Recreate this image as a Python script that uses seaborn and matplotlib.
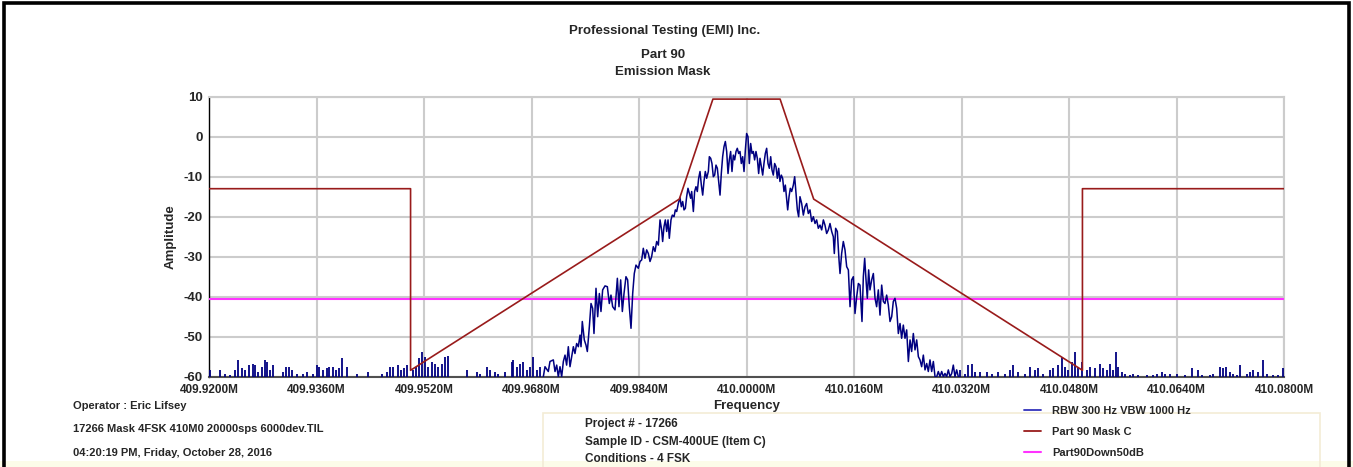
import numpy as np
import pandas as pd
import matplotlib
matplotlib.use("Agg")
import matplotlib.pyplot as plt
import seaborn as sns
from matplotlib.patches import Rectangle
from matplotlib.lines import Line2D
from matplotlib.ticker import MultipleLocator, FixedLocator

sns.set_style("white")
plt.rcParams['font.family'] = ['Liberation Sans', 'DejaVu Sans']

CENTER_MHZ = 410.0

# ---- Spectrum trace (offset from 410 MHz in kHz, amplitude in dB) ----
sig_off_khz = [
    -30.24, -29.99, -29.50, -29.25, -28.75, -28.50, -28.25, -28.01, -27.76, -27.51,
    -27.26, -27.01, -26.77, -26.52, -26.27, -26.02, -25.77, -25.53, -25.28, -25.03,
    -24.78, -24.63, -24.44, -24.14, -23.89, -23.69, -23.39, -23.14, -22.90, -22.70,
    -22.40, -22.15, -21.90, -21.66, -21.41, -21.06, -20.71, -20.42, -20.17, -19.92,
    -19.57, -19.22, -18.98, -18.73, -18.48, -18.23, -17.94, -17.69, -17.44, -17.19,
    -16.94, -16.70, -16.45, -16.10, -15.85, -15.60, -15.36, -15.11, -14.86, -14.61,
    -14.36, -14.12, -13.87, -13.62, -13.37, -13.12, -12.87, -12.63, -12.48, -12.28,
    -12.08, -11.88, -11.68, -11.49, -11.24, -11.04, -10.79, -10.59, -10.39, -10.15,
    -9.90, -9.70, -9.50, -9.30, -9.10, -8.91, -8.71, -8.51, -8.31, -8.16,
    -7.91, -7.72, -7.52, -7.32, -7.12, -6.92, -6.72, -6.52, -6.33, -6.13,
    -5.93, -5.68, -5.53, -5.33, -5.14, -4.94, -4.74, -4.54, -4.34, -4.14,
    -3.94, -3.75, -3.55, -3.35, -3.15, -2.95, -2.75, -2.56, -2.36, -2.16,
    -1.96, -1.76, -1.56, -1.37, -1.17, -0.97, -0.77, -0.57, -0.37, -0.17,
    0.02, 0.22, 0.42, 0.62, 0.82, 1.02, 1.21, 1.41, 1.61, 1.81,
    2.01, 2.21, 2.41, 2.60, 2.80, 3.00, 3.20, 3.40, 3.60, 3.79,
    3.99, 4.19, 4.39, 4.59, 4.79, 4.98, 5.18, 5.38, 5.58, 5.78,
    5.98, 6.13, 6.33, 6.52, 6.72, 6.97, 7.17, 7.37, 7.57, 7.76,
    7.96, 8.21, 8.46, 8.71, 8.95, 9.20, 9.45, 9.70, 9.95, 10.20,
    10.44, 10.69, 10.94, 11.19, 11.44, 11.68, 11.93, 12.18, 12.43, 12.68,
    12.92, 13.07, 13.27, 13.52, 13.77, 13.92, 14.16, 14.41, 14.66, 14.91,
    15.16, 15.41, 15.65, 15.90, 16.15, 16.40, 16.65, 16.89, 17.19, 17.39,
    17.59, 17.79, 17.98, 18.18, 18.38, 18.63, 18.88, 19.13, 19.37, 19.62,
    19.87, 20.12, 20.37, 20.61, 20.86, 21.11, 21.36, 21.61, 21.85, 22.10,
    22.35, 22.60, 22.85, 23.09, 23.34, 23.59, 23.84, 24.09, 24.34, 24.58,
    24.83, 25.08, 25.33, 25.58, 25.82, 26.07, 26.32, 26.57, 26.82, 27.06,
    27.31, 27.56, 27.81, 28.06, 28.31, 28.55, 28.80, 29.05, 29.30, 29.54,
    29.79, 30.04, 30.29, 30.54, 30.78, 31.03, 31.28, 31.53,
]
sig_db = [
    -60.0, -57.5, -58.7, -56.2, -55.8, -58.7, -57.1, -60.0, -57.5, -60.0,
    -56.2, -54.6, -57.1, -52.5, -57.5, -55.0, -52.5, -54.2, -51.7, -52.5,
    -49.6, -52.5, -46.2, -50.8, -52.1, -53.7, -47.5, -41.7, -42.9, -49.2,
    -37.9, -45.0, -39.2, -43.7, -38.3, -37.3, -37.5, -41.7, -39.6, -42.5,
    -43.3, -35.4, -42.5, -35.8, -43.7, -39.2, -35.0, -35.8, -42.5, -47.9,
    -39.2, -34.2, -32.1, -32.9, -31.2, -30.8, -27.9, -30.4, -28.3, -29.2,
    -31.2, -30.0, -27.5, -28.7, -26.2, -27.1, -20.8, -23.3, -26.2, -22.5,
    -20.8, -23.7, -20.8, -25.4, -20.8, -19.6, -20.0, -18.3, -18.7, -16.7,
    -15.2, -17.5, -16.2, -18.3, -17.9, -15.0, -12.9, -14.2, -15.4, -13.7,
    -18.7, -13.7, -12.5, -13.7, -10.4, -8.7, -12.1, -14.6, -11.2, -8.7,
    -10.4, -8.7, -5.0, -5.4, -6.7, -10.0, -9.6, -7.1, -7.9, -11.2,
    -14.6, -9.2, -5.0, -2.5, -1.2, -3.7, -9.2, -5.8, -3.7, -8.7,
    -4.6, -5.8, -3.7, -2.9, -4.2, -3.7, -6.7, -5.0, -8.7, -3.3,
    0.8, 0.0, -6.7, -1.7, -4.2, -3.7, -5.8, -3.7, -5.4, -9.2,
    -5.4, -7.5, -9.6, -6.7, -4.2, -2.9, -6.7, -7.9, -5.0, -8.3,
    -9.6, -6.7, -7.5, -10.4, -7.9, -11.2, -9.6, -10.4, -13.7, -12.1,
    -15.8, -18.3, -15.0, -12.9, -13.7, -12.1, -10.0, -14.2, -18.3, -20.0,
    -15.0, -16.7, -19.6, -17.5, -16.7, -19.2, -18.3, -21.2, -20.0, -21.7,
    -20.8, -22.9, -22.1, -23.3, -20.8, -22.1, -24.2, -23.3, -21.7, -23.7,
    -25.0, -29.2, -22.9, -23.7, -30.8, -34.2, -29.2, -26.2, -28.3, -32.5,
    -33.3, -42.5, -35.8, -35.0, -44.2, -40.0, -36.7, -37.1, -46.2, -35.0,
    -30.4, -35.8, -40.4, -33.3, -38.3, -35.8, -34.2, -40.4, -42.5, -38.3,
    -44.6, -37.1, -41.2, -41.7, -39.6, -42.1, -46.2, -45.0, -41.2, -40.4,
    -42.9, -49.2, -46.7, -50.4, -47.1, -50.4, -48.3, -56.2, -50.8, -53.7,
    -49.2, -53.3, -50.8, -55.0, -55.8, -57.5, -54.6, -58.3, -56.7, -58.7,
    -55.8, -58.7, -56.2, -60.0, -60.0, -58.7, -60.0, -58.7, -60.0, -59.2,
    -60.0, -58.3, -60.0, -59.2, -57.1, -60.0, -58.3, -60.0,
]

# ---- Noise-floor spikes outside the signal (offset kHz, peak dB) ----
floor_off_khz = [
    -79.85, -78.36, -77.62, -76.88, -76.13, -75.74, -75.14, -74.64, -74.05, -73.50,
    -73.15, -72.66, -72.16, -71.72, -71.42, -70.92, -70.52, -68.94, -68.54, -68.09,
    -67.70, -66.95, -65.96, -65.37, -64.57, -63.98, -63.58, -63.08, -62.49, -62.09,
    -61.60, -61.10, -60.60, -60.16, -59.51, -58.02, -56.29, -54.30, -53.56, -53.06,
    -52.57, -51.82, -51.47, -50.98, -50.48, -49.59, -49.19, -48.70, -48.25, -47.85,
    -47.36, -46.86, -46.36, -45.87, -45.37, -44.87, -44.38, -41.55, -40.16, -39.67,
    -38.67, -38.18, -37.43, -36.94, -35.95, -34.95, -34.70, -34.21, -33.71, -33.22,
    -32.72, -32.23, -31.73, -31.23, -30.74,
    31.78, 32.52, 33.02, 33.51, 34.01, 34.75, 35.75, 36.49, 37.48, 38.47,
    39.22, 39.71, 40.46, 41.45, 42.20, 42.94, 43.44, 44.18, 45.17, 45.67,
    46.41, 46.91, 47.40, 47.90, 48.40, 48.89, 49.39, 49.89, 50.63, 51.13,
    51.87, 52.61, 53.11, 53.61, 54.10, 54.60, 55.00, 55.34, 55.84, 56.33,
    57.08, 57.58, 58.32, 59.56, 60.55, 61.05, 61.79, 62.29, 63.03, 64.03,
    65.27, 66.26, 67.25, 67.75, 68.99, 69.48, 70.48, 70.87, 71.37, 71.96,
    72.46, 72.96, 73.45, 74.44, 74.94, 75.44, 76.18, 76.92, 77.42, 78.41,
    79.16, 79.80,
]
floor_db = [
    -58.3, -58.3, -59.2, -59.6, -58.3, -55.8, -57.9, -58.3, -57.1, -56.7,
    -57.1, -58.7, -57.5, -55.8, -56.2, -58.3, -57.1, -58.7, -57.5, -57.5,
    -58.3, -59.2, -59.2, -58.7, -59.2, -57.1, -57.5, -58.3, -57.9, -57.5,
    -57.5, -58.3, -57.9, -55.4, -57.5, -59.2, -58.7, -59.2, -58.7, -57.5,
    -57.5, -57.1, -58.3, -57.9, -57.1, -58.3, -57.5, -55.4, -53.7, -55.0,
    -57.5, -56.2, -56.7, -57.5, -56.7, -55.0, -54.8, -58.3, -58.7, -59.2,
    -57.5, -58.3, -58.7, -59.2, -58.7, -56.2, -55.8, -57.5, -56.7, -56.2,
    -58.3, -57.5, -55.0, -58.3, -57.5,
    -58.3, -59.2, -57.1, -56.7, -58.7, -58.7, -58.7, -59.2, -58.7, -59.2,
    -58.3, -57.1, -58.7, -59.2, -57.5, -58.3, -57.9, -59.2, -58.3, -57.9,
    -57.1, -55.0, -57.5, -58.3, -56.2, -53.7, -57.5, -56.2, -58.3, -57.5,
    -57.9, -56.7, -57.9, -58.3, -56.7, -58.3, -53.7, -57.5, -58.7, -59.2,
    -59.6, -59.2, -59.6, -59.6, -59.6, -59.2, -58.7, -59.2, -59.2, -59.2,
    -59.6, -57.9, -58.3, -59.6, -59.6, -59.2, -57.5, -57.9, -57.5, -58.7,
    -59.2, -59.6, -57.1, -59.2, -58.7, -58.3, -58.7, -55.8, -59.2, -59.6,
    -59.6, -57.9,
]

# ---- Part 90 Mask C (offset kHz, dB) ----
mask_off_khz = [-80, -50, -50, -10, -5, 5, 10, 50, 50, 80]
mask_db = [-13.0, -13.0, -58.4, -15.6, 9.4, 9.4, -15.6, -58.4, -13.0, -13.0]
# ---- Part90Down50dB level ----
down50_off_khz = [-80, 80]
down50_db = [-40.5, -40.5]

xtick_mhz = [409.920, 409.936, 409.952, 409.968, 409.984, 410.000,
             410.016, 410.032, 410.048, 410.064, 410.080]
xtick_labels = ["409.9200M", "409.9360M", "409.9520M", "409.9680M", "409.9840M",
                "410.0000M", "410.0160M", "410.0320M", "410.0480M", "410.0640M",
                "410.0800M"]
ytick_vals = [10, 0, -10, -20, -30, -40, -50, -60]

legend_labels = ["RBW 300 Hz VBW 1000 Hz", "Part 90 Mask C", "Part90Down50dB"]

title_lines = ["Professional Testing (EMI) Inc.", "Part 90", "Emission Mask"]
info_left = ["Operator : Eric Lifsey",
             "17266 Mask 4FSK 410M0 20000sps 6000dev.TIL",
             "04:20:19 PM, Friday, October 28, 2016"]
info_mid = ["Project # - 17266", "Sample ID - CSM-400UE (Item C)", "Conditions - 4 FSK"]

# ---------------------------------------------------------------
W, H = 1353, 467
fig = plt.figure(figsize=(W / 100, H / 100), dpi=100)

def fx(px):
    return px / W

def fy(py):
    return 1 - py / H

# background decorations
fig.add_artist(Rectangle((0, 0), 1, fy(461), transform=fig.transFigure,
                         facecolor="#fcfce9", edgecolor="none", zorder=0))
fig.add_artist(Rectangle((fx(543), fy(475)), fx(1320) - fx(543), fy(413) - fy(475),
                         transform=fig.transFigure, facecolor="none",
                         edgecolor="#f3ecd6", lw=1.2, zorder=1))
fig.add_artist(Rectangle((fx(3.5), fy(480)), fx(1349) - fx(3.5), fy(2.5) - fy(480),
                         transform=fig.transFigure, facecolor="none",
                         edgecolor="black", lw=2.6, zorder=2))

ax = fig.add_axes([fx(209), fy(376.7), fx(1284) - fx(209), fy(96.7) - fy(376.7)])
ax.set_facecolor("white")

sig_df = pd.DataFrame({"freq": CENTER_MHZ + np.array(sig_off_khz) / 1000.0, "amp": sig_db})
mask_df = pd.DataFrame({"freq": CENTER_MHZ + np.array(mask_off_khz) / 1000.0, "amp": mask_db})
d50_df = pd.DataFrame({"freq": CENTER_MHZ + np.array(down50_off_khz) / 1000.0, "amp": down50_db})

sns.lineplot(data=d50_df, x="freq", y="amp", ax=ax, color="#ff33ff", lw=1.5,
             sort=False, estimator=None, zorder=3)
sns.lineplot(data=sig_df, x="freq", y="amp", ax=ax, color="#000080", lw=1.1,
             sort=False, estimator=None, zorder=4)
ax.vlines(CENTER_MHZ + np.array(floor_off_khz) / 1000.0, -61, floor_db,
          color="#000080", lw=1.3, zorder=4)
sns.lineplot(data=mask_df, x="freq", y="amp", ax=ax, color="#991b1b", lw=1.2,
             sort=False, estimator=None, zorder=5)

ax.set_xlim(xtick_mhz[0], xtick_mhz[-1])
ax.set_ylim(ytick_vals[-1], ytick_vals[0])

ax.xaxis.set_major_locator(FixedLocator(xtick_mhz))
ax.set_xticklabels(xtick_labels, fontsize=8.5, fontweight="bold")
ax.xaxis.set_minor_locator(MultipleLocator(0.0032))
ax.yaxis.set_major_locator(FixedLocator(ytick_vals))
ax.set_yticklabels([str(v) for v in ytick_vals], fontsize=9.5, fontweight="bold")
ax.yaxis.set_minor_locator(MultipleLocator(1))

ax.grid(True, which="major", color="#cccccc", lw=1.5, zorder=0)
ax.set_axisbelow(True)

for s in ["top", "right"]:
    ax.spines[s].set_color("#cccccc")
    ax.spines[s].set_linewidth(1.5)
ax.spines["left"].set_color("black")
ax.spines["left"].set_linewidth(1.0)
ax.spines["bottom"].set_color("#505050")
ax.spines["bottom"].set_linewidth(1.5)

ax.tick_params(axis="y", which="major", direction="inout", length=7, width=0.9,
               color="black", pad=1)
ax.tick_params(axis="y", which="minor", direction="inout", length=5, width=0.7,
               color="black")
ax.tick_params(axis="x", which="both", direction="inout", length=5, width=0.9,
               color="#404040", pad=2.5)

ax.set_xlabel("Frequency", fontsize=9.5, fontweight="bold", labelpad=3)
ax.set_ylabel("Amplitude", fontsize=9.5, fontweight="bold", labelpad=5)

# legend
handles = [Line2D([], [], color="#3333bb", lw=1.3),
           Line2D([], [], color="#991b1b", lw=1.3),
           Line2D([], [], color="#ff33ff", lw=1.5)]
if ax.get_legend() is not None:
    ax.get_legend().remove()
fig.legend(handles, legend_labels, loc="upper left",
           bbox_to_anchor=(fx(1024), fy(406)), frameon=False,
           prop={"size": 8, "weight": "bold"}, handlelength=1.5,
           handletextpad=1.0, labelspacing=1.0, borderpad=0, borderaxespad=0)

# titles
fig.text(fx(665), fy(31), title_lines[0], ha="center", va="center",
         fontsize=9.5, fontweight="bold")
fig.text(fx(663), fy(55), title_lines[1], ha="center", va="center",
         fontsize=9.5, fontweight="bold")
fig.text(fx(663), fy(72), title_lines[2], ha="center", va="center",
         fontsize=9.5, fontweight="bold")

for i, t in enumerate(info_left):
    fig.text(fx(73), fy(406 + 23.5 * i), t, ha="left", va="center",
             fontsize=8, fontweight="bold")
for i, t in enumerate(info_mid):
    fig.text(fx(585), fy(424 + 17.5 * i), t, ha="left", va="center",
             fontsize=8.5, fontweight="bold")

fig.savefig("out.png", dpi=100)
